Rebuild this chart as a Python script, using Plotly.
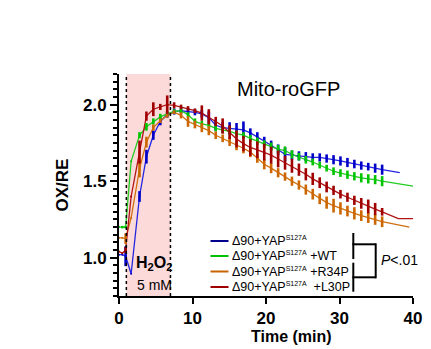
import plotly.graph_objects as go

# ---------------- data ----------------
time_min = [0, 0.45, 0.9, 1.65,
            2.79, 3.73, 4.67, 5.62, 6.56, 7.5, 8.44, 9.39, 10.33, 11.27,
            12.22, 13.16, 14.1, 15.05, 15.99, 16.93, 17.87, 18.82, 19.76, 20.7,
            21.65, 22.59, 23.53, 24.48, 25.42, 26.36, 27.31, 28.25, 29.19, 30.13,
            31.08, 32.02, 32.96, 33.91, 34.85, 35.8]

blue_val = [1.02, 1.02, 1.01, 0.895,
            1.40, 1.66, 1.80, 1.89, 1.935, 1.955, 1.96, 1.955, 1.95, 1.94,
            1.915, 1.865, 1.85, 1.845, 1.84, 1.835, 1.815, 1.79, 1.76, 1.735,
            1.705, 1.675, 1.67, 1.665, 1.66, 1.655, 1.655, 1.648, 1.64, 1.632,
            1.622, 1.612, 1.602, 1.595, 1.585, 1.575]
blue_err = [0, 0, 0.065, 0,
            0.035, 0.045, 0.03, 0.025, 0.02, 0.02, 0.02, 0.02, 0.02, 0.025,
            0.04, 0.035, 0.035, 0.04, 0.04, 0.055, 0.03, 0.03, 0.03, 0.03,
            0.035, 0.045, 0.03, 0.03, 0.03, 0.027, 0.027, 0.027, 0.03, 0.03,
            0.03, 0.028, 0.027, 0.025, 0.03, 0.033]
blue_tail_t = [38.2]
blue_tail_v = [1.556]

green_val = [1.20, 1.20, 1.20, 1.63,
             1.80, 1.855, 1.89, 1.92, 1.94, 1.955, 1.96, 1.935, 1.89, 1.875,
             1.865, 1.845, 1.835, 1.825, 1.81, 1.80, 1.78, 1.76, 1.74, 1.725,
             1.71, 1.70, 1.675, 1.66, 1.64, 1.625, 1.605, 1.585, 1.565, 1.553,
             1.542, 1.532, 1.522, 1.515, 1.51, 1.50]
green_err = [0, 0.008, 0.008, 0,
             0.02, 0.025, 0.02, 0.02, 0.015, 0.015, 0.015, 0.015, 0.02, 0.02,
             0.02, 0.02, 0.02, 0.02, 0.02, 0.02, 0.022, 0.025, 0.027, 0.027,
             0.027, 0.027, 0.027, 0.025, 0.025, 0.022, 0.022, 0.022, 0.025, 0.025,
             0.027, 0.027, 0.03, 0.03, 0.03, 0.033]
green_tail_t = [40.0]
green_tail_v = [1.467]

orange_val = [1.13, 1.13, 1.125, 1.26,
              1.58, 1.755, 1.85, 1.895, 1.93, 1.95, 1.93, 1.89, 1.87, 1.85,
              1.83, 1.80, 1.78, 1.76, 1.735, 1.715, 1.69, 1.65, 1.61, 1.585,
              1.555, 1.53, 1.50, 1.475, 1.445, 1.415, 1.385, 1.36, 1.34, 1.322,
              1.305, 1.29, 1.275, 1.26, 1.248, 1.235]
orange_err = [0, 0, 0.035, 0,
              0.055, 0.035, 0.02, 0.015, 0.015, 0.012, 0.02, 0.035, 0.025, 0.03,
              0.03, 0.025, 0.025, 0.03, 0.033, 0.033, 0.033, 0.03, 0.033, 0.033,
              0.03, 0.027, 0.03, 0.03, 0.033, 0.035, 0.035, 0.04, 0.045, 0.04,
              0.035, 0.04, 0.035, 0.033, 0.033, 0.035]
orange_tail_t = [39.5]
orange_tail_v = [1.20]

red_val = [1.04, 1.03, 1.05, 1.40,
           1.69, 1.925, 1.97, 1.985, 2.0, 1.995, 1.985, 1.975, 1.96, 1.945,
           1.92, 1.89, 1.86, 1.82, 1.775, 1.745, 1.72, 1.705, 1.69, 1.67,
           1.645, 1.62, 1.60, 1.575, 1.545, 1.515, 1.49, 1.462, 1.44, 1.415,
           1.395, 1.375, 1.355, 1.335, 1.318, 1.30]
red_err = [0, 0, 0.02, 0,
           0.075, 0.03, 0.045, 0.02, 0.06, 0.02, 0.015, 0.015, 0.015, 0.05,
           0.05, 0.03, 0.05, 0.045, 0.055, 0.05, 0.055, 0.055, 0.055, 0.055,
           0.055, 0.045, 0.045, 0.04, 0.04, 0.04, 0.035, 0.035, 0.03, 0.028,
           0.03, 0.03, 0.035, 0.045, 0.04, 0.025]
red_tail_t = [38.0, 40.0]
red_tail_v = [1.255, 1.255]

legend_main = "Δ90+YAP"
legend_sup = "S127A"
legend_suffix = ["", " +WT", " +R34P", "&nbsp; +L30P"]

h2o2_start, h2o2_end = 1, 7

# ---------------- styles ----------------
FONT = "Liberation Sans, Arial, sans-serif"
series = [
    (blue_val, blue_err, blue_tail_t, blue_tail_v, "#2424E0", "#0000C8", "#00008C"),
    (green_val, green_err, green_tail_t, green_tail_v, "#22CC22", "#00C400", "#00C000"),
    (orange_val, orange_err, orange_tail_t, orange_tail_v, "#D07010", "#CC6600", "#C86400"),
    (red_val, red_err, red_tail_t, red_tail_v, "#B01414", "#A00000", "#A00000"),
]

L, R, T, B = 119, 18, 74, 53
W, H = 431, 349
PW, PH = W - L - R, H - T - B


def px(x):
    return (x - L) / PW


def py(y):
    return (H - B - y) / PH


fig = go.Figure()

for vals, errs, tt, tv, lc, ec, _ in series:
    fig.add_trace(go.Scatter(x=time_min + tt, y=vals + tv, mode="lines",
                             line=dict(color=lc, width=1.3), showlegend=False,
                             hoverinfo="skip"))
for vals, errs, tt, tv, lc, ec, _ in series:
    fig.add_trace(go.Scatter(x=time_min, y=vals, mode="markers",
                             marker=dict(size=2, color=ec),
                             error_y=dict(type="data", array=errs, visible=True,
                                          color=ec, thickness=2.6, width=0),
                             showlegend=False))

shapes = [
    dict(type="rect", xref="x", yref="paper", x0=h2o2_start, x1=h2o2_end, y0=0, y1=1,
         fillcolor="#FCDADA", line=dict(width=0), layer="below"),
    dict(type="line", xref="x", yref="paper", x0=h2o2_start, x1=h2o2_start, y0=0, y1=1,
         line=dict(color="black", width=1.5, dash="dot")),
    dict(type="line", xref="x", yref="paper", x0=h2o2_end, x1=h2o2_end, y0=0, y1=1,
         line=dict(color="black", width=1.5, dash="dot")),
]

leg_y = [241, 256, 271.5, 287]
annotations = []
for i, (s, yv) in enumerate(zip(series, leg_y)):
    shapes.append(dict(type="line", xref="paper", yref="paper",
                       x0=px(210.5), x1=px(228.5), y0=py(yv), y1=py(yv),
                       line=dict(color=s[6], width=2)))
    annotations.append(dict(xref="paper", yref="paper", x=px(230), y=py(yv),
                            xanchor="left", yanchor="middle", showarrow=False,
                            text=legend_main + "<sup><span style='font-size:7px'>"
                                 + legend_sup + "</span></sup>" + legend_suffix[i],
                            font=dict(family=FONT, size=12.5, color="black")))

bk = dict(color="black", width=2)
for (x0, y0, x1, y1) in [(353.3, 233, 353.3, 259), (353.3, 262.7, 353.3, 291.7),
                         (352.3, 244.3, 375.7, 244.3), (352.3, 277.3, 375.7, 277.3),
                         (375.7, 243.3, 375.7, 278.3)]:
    shapes.append(dict(type="line", xref="paper", yref="paper",
                       x0=px(x0), x1=px(x1), y0=py(y0), y1=py(y1), line=bk))

annotations += [
    dict(xref="paper", yref="paper", x=px(378.5), y=py(260), xanchor="left",
         yanchor="middle", showarrow=False, text="<i>P</i>&lt;.01",
         font=dict(family=FONT, size=14, color="black")),
    dict(xref="paper", yref="paper", x=px(288), y=py(89), xanchor="center",
         yanchor="middle", showarrow=False, text="Mito-roGFP",
         font=dict(family=FONT, size=20, color="black")),
    dict(xref="paper", yref="paper", x=px(134), y=py(263), xanchor="left",
         yanchor="middle", showarrow=False, text="<b>H<sub>2</sub>O<sub>2</sub></b>",
         font=dict(family=FONT, size=16, color="black")),
    dict(xref="paper", yref="paper", x=px(135), y=py(285), xanchor="left",
         yanchor="middle", showarrow=False, text="5 mM",
         font=dict(family=FONT, size=14, color="black")),
    dict(xref="paper", yref="paper", x=px(291.5), y=py(336), xanchor="center",
         yanchor="middle", showarrow=False, text="<b>Time (min)</b>",
         font=dict(family=FONT, size=16, color="black")),
]

fig.update_layout(
    width=W, height=H, margin=dict(l=L, r=R, t=T, b=B, autoexpand=False),
    paper_bgcolor="white", plot_bgcolor="white",
    shapes=shapes, annotations=annotations, showlegend=False,
    font=dict(family=FONT, color="black"),
)
fig.update_xaxes(range=[0, 40], tickmode="linear", tick0=0, dtick=10,
                 ticks="outside", ticklen=6, tickwidth=2, tickcolor="black",
                 showline=True, linewidth=2, linecolor="black",
                 showgrid=False, zeroline=False,
                 tickfont=dict(family=FONT, size=17, color="black", weight="bold"))
fig.update_yaxes(range=[0.75, 2.2], tickmode="linear", tick0=1.0, dtick=0.5,
                 tickformat=".1f",
                 ticks="outside", ticklen=7, tickwidth=2, tickcolor="black",
                 showline=True, linewidth=2, linecolor="black",
                 showgrid=False, zeroline=False,
                 title=dict(text="<b>OX/RE</b>", standoff=10,
                            font=dict(family=FONT, size=17, color="black")),
                 minor=dict(dtick=0.05, tick0=1.0, ticks="outside", ticklen=4,
                            tickwidth=1.5, tickcolor="black", showgrid=False),
                 tickfont=dict(family=FONT, size=17, color="black", weight="bold"))

fig.write_html("out.html")
